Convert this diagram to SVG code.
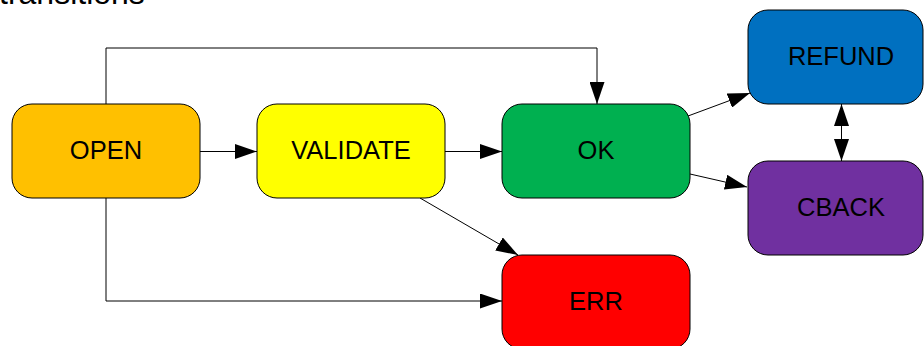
<svg xmlns="http://www.w3.org/2000/svg" width="924" height="346" viewBox="0 0 924 346">
  <style>
    .node { stroke: #000; stroke-width: 1; }
    .label { font-family: "Liberation Sans", Arial, sans-serif; font-size: 25.5px; fill: #000; text-anchor: middle; dominant-baseline: central; }
    .edge { fill: none; stroke: #000; stroke-width: 1; }
    .title { font-family: "Liberation Sans", Arial, sans-serif; font-size: 32px; fill: #000; }
  </style>
  <defs>
    <marker id="arrow" viewBox="0 0 22 15" refX="22" refY="7.5" markerWidth="22" markerHeight="15" markerUnits="userSpaceOnUse" orient="auto-start-reverse">
      <path d="M0,0 L22,7.5 L0,15 Z" fill="#000"/>
    </marker>
  </defs>

  <rect width="924" height="346" fill="#fff"/>
  <text class="title" x="-1" y="4">transitions</text>

  <g id="connectors">
    <line class="edge" x1="200" y1="151.5" x2="257" y2="151.5" marker-end="url(#arrow)"/>
    <line class="edge" x1="445" y1="151.5" x2="502" y2="151.5" marker-end="url(#arrow)"/>
    <polyline class="edge" points="106,104 106,48 597,48 597,104" marker-end="url(#arrow)"/>
    <polyline class="edge" points="106,198 106,301 502,301" marker-end="url(#arrow)"/>
    <line class="edge" x1="420" y1="198" x2="518" y2="255" marker-end="url(#arrow)"/>
    <line class="edge" x1="688" y1="116" x2="750" y2="93" marker-end="url(#arrow)"/>
    <line class="edge" x1="690" y1="174" x2="747" y2="187" marker-end="url(#arrow)"/>
    <line class="edge" x1="841.5" y1="104" x2="841.5" y2="161" marker-start="url(#arrow)" marker-end="url(#arrow)"/>
  </g>

  <g id="node-open">
    <rect class="node" x="12" y="104" width="188" height="94" rx="20" fill="#FFC000"/>
    <text class="label" x="106" y="150">OPEN</text>
  </g>
  <g id="node-validate">
    <rect class="node" x="257" y="104" width="188" height="94" rx="20" fill="#FFFF00"/>
    <text class="label" x="351" y="150">VALIDATE</text>
  </g>
  <g id="node-ok">
    <rect class="node" x="502" y="104" width="188" height="94" rx="20" fill="#00B050"/>
    <text class="label" x="596" y="150">OK</text>
  </g>
  <g id="node-refund">
    <rect class="node" x="748" y="10" width="175" height="94" rx="20" fill="#0070C0"/>
    <text class="label" x="841" y="56">REFUND</text>
  </g>
  <g id="node-cback">
    <rect class="node" x="748" y="161" width="175" height="94" rx="20" fill="#7030A0"/>
    <text class="label" x="841" y="207">CBACK</text>
  </g>
  <g id="node-err">
    <rect class="node" x="502" y="255" width="188" height="94" rx="20" fill="#FF0000"/>
    <text class="label" x="596" y="301">ERR</text>
  </g>
</svg>
